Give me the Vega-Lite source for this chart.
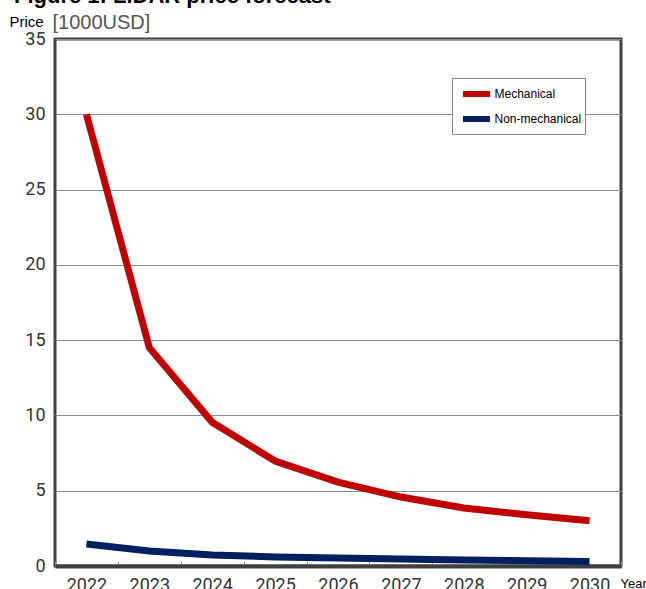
{
  "$schema": "https://vega.github.io/schema/vega-lite/v6.json",
  "width": 566,
  "height": 527,
  "autosize": {"type": "none"},
  "padding": {"left": 55, "top": 39, "right": 25, "bottom": 23},
  "background": "white",
  "title": {
    "text": "Figure 1: LiDAR price forecast",
    "anchor": "start",
    "fontSize": 22,
    "font": "Liberation Sans",
    "fontWeight": "bold",
    "color": "#000000",
    "dx": 5,
    "offset": 4
  },
  "config": {
    "view": {"stroke": "#404040", "strokeWidth": 3},
    "font": "Liberation Sans"
  },
  "data": {
    "values": [
      {"year": "2022", "type": "Mechanical", "price": 30.0},
      {"year": "2023", "type": "Mechanical", "price": 14.5},
      {"year": "2024", "type": "Mechanical", "price": 9.55},
      {"year": "2025", "type": "Mechanical", "price": 6.97},
      {"year": "2026", "type": "Mechanical", "price": 5.57},
      {"year": "2027", "type": "Mechanical", "price": 4.58},
      {"year": "2028", "type": "Mechanical", "price": 3.85},
      {"year": "2029", "type": "Mechanical", "price": 3.4},
      {"year": "2030", "type": "Mechanical", "price": 3.0},
      {"year": "2022", "type": "Non-mechanical", "price": 1.46},
      {"year": "2023", "type": "Non-mechanical", "price": 1.0},
      {"year": "2024", "type": "Non-mechanical", "price": 0.73},
      {"year": "2025", "type": "Non-mechanical", "price": 0.6},
      {"year": "2026", "type": "Non-mechanical", "price": 0.53},
      {"year": "2027", "type": "Non-mechanical", "price": 0.47},
      {"year": "2028", "type": "Non-mechanical", "price": 0.4},
      {"year": "2029", "type": "Non-mechanical", "price": 0.35},
      {"year": "2030", "type": "Non-mechanical", "price": 0.3}
    ]
  },
  "layer": [
    {
      "mark": {"type": "line", "strokeWidth": 7},
      "encoding": {
        "x": {
          "field": "year",
          "type": "ordinal",
          "scale": {"type": "band", "paddingInner": 0, "paddingOuter": 0},
          "axis": {
            "orient": "bottom",
            "labelAngle": 0,
            "labelFont": "Roboto",
            "labelFontSize": 18,
            "labelFontWeight": "normal",
            "labelColor": "#333333",
            "labelPadding": 15,
            "domain": true,
            "domainColor": "#404040",
            "domainWidth": 4,
            "ticks": true,
            "tickBand": "extent",
            "tickSize": -5,
            "tickColor": "#909090",
            "tickWidth": 1,
            "grid": false,
            "title": "Year",
            "titleFont": "Liberation Sans",
            "titleFontSize": 13,
            "titleFontWeight": "normal",
            "titleColor": "#000000",
            "titleAlign": "left",
            "titleAnchor": null,
            "titleX": 565,
            "titleY": 17,
            "titleBaseline": "middle"
          }
        },
        "y": {
          "field": "price",
          "type": "quantitative",
          "scale": {"domain": [0, 35], "nice": false, "zero": true},
          "axis": {
            "values": [0, 5, 10, 15, 20, 25, 30, 35],
            "labelFont": "Roboto",
            "labelFontSize": 18,
            "labelFontWeight": "normal",
            "labelColor": "#333333",
            "labelPadding": 10,
            "domain": false,
            "ticks": false,
            "grid": true,
            "gridColor": "#8c8c8c",
            "gridWidth": 1,
            "title": "Price",
            "titleFont": "Liberation Sans",
            "titleFontSize": 15,
            "titleFontWeight": "normal",
            "titleColor": "#000000",
            "titleAngle": 0,
            "titleAlign": "left",
            "titleBaseline": "middle",
            "titleAnchor": null,
            "titleX": -46,
            "titleY": -18
          }
        },
        "color": {
          "field": "type",
          "type": "nominal",
          "scale": {"domain": ["Mechanical", "Non-mechanical"], "range": ["#C00000", "#002060"]},
          "legend": {
            "title": null,
            "orient": "none",
            "legendX": 397,
            "legendY": 39,
            "fillColor": "white",
            "strokeColor": "#888888",
            "padding": 3,
            "symbolType": "M-1.35,0H1.35",
            "symbolStrokeWidth": 6,
            "symbolSize": 400,
            "symbolOffset": 8.5,
            "labelFont": "Liberation Sans",
            "labelFontSize": 12,
            "labelColor": "#000000",
            "rowPadding": -3,
            "labelOffset": 5
          }
        }
      }
    },
    {
      "mark": {"type": "point", "opacity": 0},
      "encoding": {
        "x": {
          "field": "year",
          "type": "ordinal",
          "axis": {
            "orient": "top",
            "labels": false,
            "ticks": false,
            "domain": false,
            "grid": false,
            "title": "[1000USD]",
            "titleFont": "Liberation Sans",
            "titleFontSize": 20,
            "titleFontWeight": "normal",
            "titleColor": "#555555",
            "titleAlign": "left",
            "titleBaseline": "middle",
            "titleAnchor": null,
            "titleX": -3,
            "titleY": -17
          }
        }
      }
    }
  ],
  "resolve": {"scale": {"x": "independent"}}
}
